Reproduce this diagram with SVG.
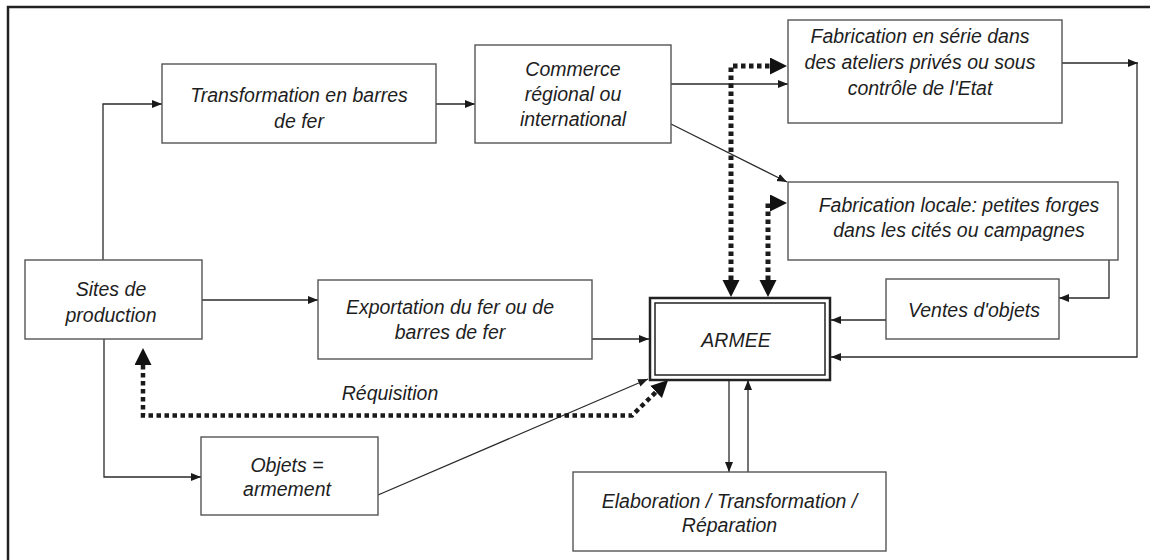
<svg xmlns="http://www.w3.org/2000/svg" width="1150" height="560" viewBox="0 0 1150 560">
<style>
.box{fill:#fff;stroke:#555;stroke-width:1.4}
.t{font-family:"Liberation Sans",Arial,sans-serif;font-style:italic;font-size:19.5px;fill:#1e1e1e;text-anchor:middle}
.ln{fill:none;stroke:#2a2a2a;stroke-width:1.3}
.dt{fill:none;stroke:#1a1a1a;stroke-width:5;stroke-dasharray:4.5 3.5}
</style>
<defs>
<marker id="a" markerUnits="userSpaceOnUse" markerWidth="11" markerHeight="9" refX="10" refY="4" orient="auto"><path d="M0,0 L10,4 L0,8 z" fill="#1a1a1a"/></marker>
<marker id="b" markerUnits="userSpaceOnUse" markerWidth="18" markerHeight="18" refX="0" refY="8.5" orient="auto-start-reverse"><path d="M0,0 L17,8.5 L0,17 z" fill="#111"/></marker>
</defs>
<rect x="8" y="7" width="1300" height="700" fill="#fff" stroke="#222" stroke-width="2.5"/>

<g id="connectors">
<path class="ln" d="M103,260 V104 H162" marker-end="url(#a)"/>
<path class="ln" d="M436,104 H475" marker-end="url(#a)"/>
<path class="ln" d="M671,84 H788" marker-end="url(#a)"/>
<path class="ln" d="M671,124 L787,182" marker-end="url(#a)"/>
<path class="ln" d="M1062,63 H1138" marker-end="url(#a)"/>
<path class="ln" d="M1137,63 V357 H831" marker-end="url(#a)"/>
<path class="ln" d="M1109,260 V298 H1059" marker-end="url(#a)"/>
<path class="ln" d="M886,320 H831" marker-end="url(#a)"/>
<path class="ln" d="M202,300 H318" marker-end="url(#a)"/>
<path class="ln" d="M592,339 H649" marker-end="url(#a)"/>
<path class="ln" d="M104,339 V477 H201" marker-end="url(#a)"/>
<path class="ln" d="M378,495 L648,379" marker-end="url(#a)"/>
<path class="ln" d="M729,380 V472" marker-end="url(#a)"/>
<path class="ln" d="M748,472 V380" marker-end="url(#a)"/>
<path class="dt" d="M731,280 V66 H770" marker-start="url(#b)" marker-end="url(#b)"/>
<path class="dt" d="M768,280 V203 H770" marker-start="url(#b)" marker-end="url(#b)"/>
<path class="dt" style="stroke-width:4.5" d="M143,365 V415.5 H632 L656,392" marker-start="url(#b)" marker-end="url(#b)"/>
<text class="t" x="390" y="399.5">Réquisition</text>
</g>

<g id="n-transformation"><rect class="box" x="162" y="64" width="274" height="79"/>
<text class="t" x="299" y="102">Transformation en barres</text><text class="t" x="299" y="128">de fer</text></g>

<g id="n-commerce"><rect class="box" x="475" y="45" width="196" height="98"/>
<text class="t" x="573" y="76">Commerce</text><text class="t" x="573" y="101">régional ou</text><text class="t" x="573" y="126">international</text></g>

<g id="n-serie"><rect class="box" x="788" y="20" width="274" height="103"/>
<text class="t" x="920" y="43">Fabrication en série dans</text><text class="t" x="920" y="69">des ateliers privés ou sous</text><text class="t" x="920" y="95">contrôle de l'Etat</text></g>

<g id="n-locale"><rect class="box" x="788" y="182" width="330" height="78"/>
<text class="t" x="959" y="212">Fabrication locale: petites forges</text><text class="t" x="959" y="237">dans les cités ou campagnes</text></g>

<g id="n-sites"><rect class="box" x="25" y="260" width="177" height="79"/>
<text class="t" x="111" y="296">Sites de</text><text class="t" x="111" y="322">production</text></g>

<g id="n-export"><rect class="box" x="318" y="280" width="274" height="79"/>
<text class="t" x="450" y="314">Exportation du fer ou de</text><text class="t" x="450" y="339">barres de fer</text></g>

<g id="n-objets"><rect class="box" x="201" y="437" width="177" height="78"/>
<text class="t" x="287" y="472">Objets =</text><text class="t" x="287" y="496">armement</text></g>

<g id="n-armee"><rect x="650" y="298" width="180" height="82" fill="#fff" stroke="#222" stroke-width="2.5"/>
<rect x="655" y="303" width="170" height="72" fill="none" stroke="#222" stroke-width="1.5"/>
<text class="t" x="736" y="347">ARMEE</text></g>

<g id="n-ventes"><rect class="box" x="886" y="279" width="173" height="60"/>
<text class="t" x="974" y="317">Ventes d'objets</text></g>

<g id="n-elab"><rect class="box" x="573" y="472" width="313" height="79"/>
<text class="t" x="729.5" y="508">Elaboration / Transformation /</text><text class="t" x="729.5" y="532">Réparation</text></g>
</svg>
